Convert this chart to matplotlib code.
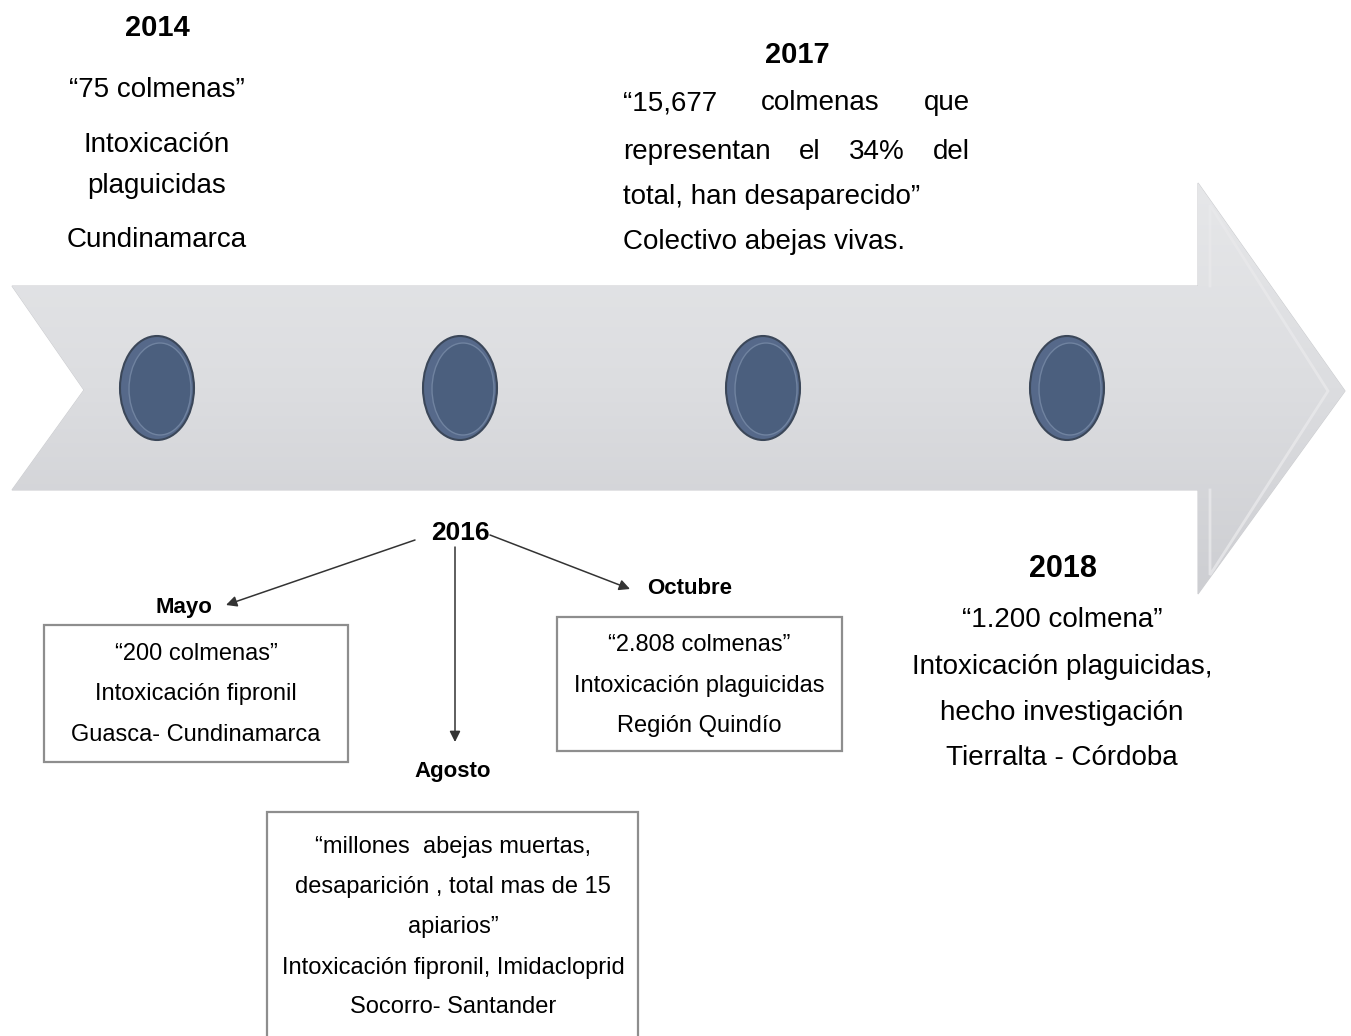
import numpy as np
import matplotlib.pyplot as plt
from matplotlib.patches import Polygon, Ellipse, Rectangle
from matplotlib.colors import to_rgb

# --- content -------------------------------------------------------------
years = ["2014", "2016", "2017", "2018"]
months = ["Mayo", "Agosto", "Octubre"]

text_2014 = ["\u201c75 colmenas\u201d", "Intoxicación", "plaguicidas", "Cundinamarca"]
text_2017_just = ["\u201c15,677 colmenas que", "representan el 34% del"]
text_2017_plain = ["total, han desaparecido\u201d", "Colectivo abejas vivas."]
text_2018 = ["\u201c1.200 colmena\u201d", "Intoxicación plaguicidas,",
             "hecho investigación", "Tierralta - Córdoba"]
box_mayo = ["\u201c200 colmenas\u201d", "Intoxicación fipronil", "Guasca- Cundinamarca"]
box_octubre = ["\u201c2.808 colmenas\u201d", "Intoxicación plaguicidas", "Región Quindío"]
box_agosto = ["\u201cmillones  abejas muertas,", "desaparición , total mas de 15",
              "apiarios\u201d", "Intoxicación fipronil, Imidacloprid", "Socorro- Santander"]

W, H = 1351, 1036
REG = ["Liberation Sans", "DejaVu Sans"]
BOLD = ["Liberation Sans", "DejaVu Sans"]

fig = plt.figure(figsize=(W / 100, H / 100), dpi=100)
ax = fig.add_axes([0, 0, 1, 1])
ax.set_xlim(0, W)
ax.set_ylim(H, 0)
ax.axis("off")

# --- timeline arrow with vertical gradient --------------------------------
arrow_pts = [(12, 286), (1198, 286), (1198, 183), (1345, 391), (1198, 594),
             (1198, 490), (12, 490), (84, 390)]
arrow = Polygon(arrow_pts, closed=True, facecolor="none", edgecolor="#cdced1", lw=0.8)
ax.add_patch(arrow)
c_top, c_mid, c_bot = map(np.array, (to_rgb("#e6e7e9"), to_rgb("#dcdde0"), to_rgb("#cdced2")))
cols = np.zeros((256, 1, 3))
for i, v in enumerate(np.linspace(0, 1, 256)):
    if v < 0.5:
        cols[i, 0] = c_top + (c_mid - c_top) * v / 0.5
    else:
        cols[i, 0] = c_mid + (c_bot - c_mid) * (v - 0.5) / 0.5
im = ax.imshow(cols, extent=(12, 1345, 594, 183), aspect="auto", origin="upper", zorder=1)
im.set_clip_path(arrow)
# soft bevel on the head
ax.plot([1210, 1210, 1328, 1210, 1210], [286, 205, 391, 575, 490],
        color="#e9e9eb", lw=2, alpha=0.8, zorder=2, solid_joinstyle="miter")

# --- dots ----------------------------------------------------------------
for cx in [157, 460, 763, 1067]:
    ax.add_patch(Ellipse((cx, 388), 74, 104, facecolor="#56698a", edgecolor="#3b4759",
                         lw=1.5, zorder=3))
    ax.add_patch(Ellipse((cx + 3, 389), 62, 92, facecolor="#4b5f7e", edgecolor="#7083a0",
                         lw=1.0, zorder=4))

# --- text helpers ----------------------------------------------------------
def lines_at(lines, x, ys, size):
    for s, y in zip(lines, ys):
        ax.text(x, y, s, ha="center", va="center", fontsize=size, family=REG, zorder=5)

def bold(s, x, y, size):
    ax.text(x, y, s, ha="center", va="center", fontsize=size, family=BOLD,
            fontweight="bold", zorder=5)

renderer = fig.canvas.get_renderer()

def justified(line, x0, x1, y, size):
    words = line.split()
    widths = []
    for w in words:
        tt = ax.text(0, 0, w, fontsize=size, family=REG)
        widths.append(tt.get_window_extent(renderer).width)
        tt.remove()
    gap = (x1 - x0 - sum(widths)) / (len(words) - 1)
    x = x0
    for w, wd in zip(words, widths):
        ax.text(x, y, w, ha="left", va="center", fontsize=size, family=REG, zorder=5)
        x += wd + gap

# 2014
bold(years[0], 157, 28, 21)
lines_at(text_2014, 157, [90, 145, 186, 240], 20)

# 2017
bold(years[2], 797, 55, 21)
for s, y in zip(text_2017_just, [103, 152]):
    justified(s, 623, 970, y, 20)
for s, y in zip(text_2017_plain, [197, 242]):
    ax.text(623, y, s, ha="left", va="center", fontsize=20, family=REG, zorder=5)

# 2018
bold(years[3], 1063, 569, 22)
lines_at(text_2018, 1062, [620, 667, 713, 758], 20)

# 2016 and its months
bold(years[1], 460, 533, 19)
bold(months[0], 184, 607, 16)
bold(months[2], 690, 588, 16)
bold(months[1], 453, 772, 16)

arrow_kw = dict(arrowstyle="-|>", color="#333333", lw=1.1, mutation_scale=16,
                shrinkA=0, shrinkB=0)
ax.annotate("", xy=(226, 605), xytext=(415, 540), arrowprops=arrow_kw, zorder=5)
ax.annotate("", xy=(455, 742), xytext=(455, 547), arrowprops=arrow_kw, zorder=5)
ax.annotate("", xy=(630, 589), xytext=(490, 535), arrowprops=arrow_kw, zorder=5)

# boxes
for (x0, y0, x1, y1) in [(44, 625, 348, 762), (557, 617, 842, 751), (267, 812, 638, 1045)]:
    ax.add_patch(Rectangle((x0, y0), x1 - x0, y1 - y0, facecolor="white",
                           edgecolor="#8e8e8e", lw=1.6, zorder=4))
lines_at(box_mayo, 196, [654, 694, 735], 17)
lines_at(box_octubre, 699, [645, 686, 726], 17)
lines_at(box_agosto, 453, [847, 887, 927, 968, 1007], 17)

fig.savefig("out.png", dpi=100)
